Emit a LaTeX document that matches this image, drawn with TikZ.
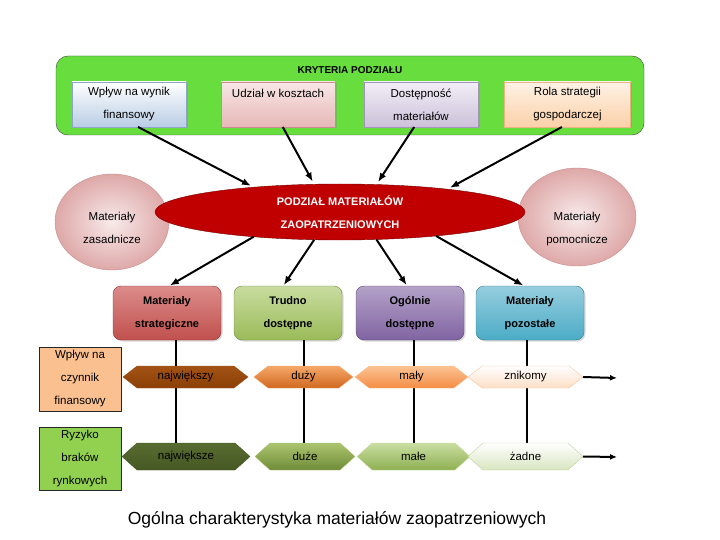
\documentclass[tikz,border=0pt]{standalone}
\usepackage{fontspec}
\setmainfont{Liberation Sans}
\usetikzlibrary{shapes.geometric,shapes.symbols,shadows,arrows.meta}
\definecolor{frame}{RGB}{104,222,62}
\definecolor{ellred}{RGB}{192,0,0}
\definecolor{discin}{RGB}{248,234,234}
\definecolor{discout}{RGB}{222,168,168}
\definecolor{discb}{RGB}{200,140,140}
\definecolor{peach}{RGB}{250,192,144}
\definecolor{lgreen}{RGB}{146,208,80}
% kryteria
\definecolor{kbA}{RGB}{185,205,229}\definecolor{kbAb}{RGB}{140,165,200}
\definecolor{kbBt}{RGB}{248,230,230}\definecolor{kbB}{RGB}{230,184,183}\definecolor{kbBb}{RGB}{200,140,140}
\definecolor{kbCt}{RGB}{242,238,246}\definecolor{kbC}{RGB}{204,193,218}\definecolor{kbCb}{RGB}{165,150,185}
\definecolor{kbDt}{RGB}{254,242,230}\definecolor{kbD}{RGB}{251,208,168}\definecolor{kbDb}{RGB}{235,180,130}
% grupy
\definecolor{gAt}{RGB}{220,140,138}\definecolor{gA}{RGB}{192,80,77}\definecolor{gAb}{RGB}{140,56,54}
\definecolor{gBt}{RGB}{200,220,160}\definecolor{gB}{RGB}{155,187,89}\definecolor{gBb}{RGB}{113,137,63}
\definecolor{gCt}{RGB}{180,162,200}\definecolor{gC}{RGB}{128,100,162}\definecolor{gCb}{RGB}{92,71,118}
\definecolor{gDt}{RGB}{150,205,222}\definecolor{gD}{RGB}{75,172,198}\definecolor{gDb}{RGB}{53,125,145}
% cechy
\definecolor{hAt}{RGB}{162,82,20}\definecolor{hA}{RGB}{140,64,6}
\definecolor{hBt}{RGB}{245,168,105}\definecolor{hB}{RGB}{208,104,32}
\definecolor{hCt}{RGB}{251,195,148}\definecolor{hC}{RGB}{244,140,68}
\definecolor{hD}{RGB}{252,222,198}\definecolor{hDb}{RGB}{248,196,160}
\definecolor{rAt}{RGB}{88,108,48}\definecolor{rA}{RGB}{70,88,36}
\definecolor{rBt}{RGB}{172,196,112}\definecolor{rB}{RGB}{112,140,56}
\definecolor{rCt}{RGB}{202,222,162}\definecolor{rC}{RGB}{142,176,82}
\definecolor{rD}{RGB}{216,229,192}\definecolor{rDb}{RGB}{190,210,155}
\begin{document}
\begin{tikzpicture}[x=1pt, y=-1pt, font=\fontsize{11.5}{23}\selectfont, line join=round, >={Latex[length=9pt,width=7pt]}]
	\tikzset{
	crit/.style n args={3}{rectangle, draw=#3, top color=#1, bottom color=#2, minimum height=45pt, inner sep=0pt, outer sep=0pt, align=center, drop shadow={shadow xshift=1.5pt, shadow yshift=-1.5pt, opacity=.3}},
	grp/.style n args={3}{rectangle, rounded corners=8pt, draw=#3, top color=#1, bottom color=#2, minimum width=108pt, minimum height=54pt, inner sep=0pt, outer sep=0pt, align=center, font=\bfseries\fontsize{11}{23}\selectfont, drop shadow={shadow xshift=1.5pt, shadow yshift=-1.5pt, opacity=.3}},
	hexa/.style n args={3}{signal, signal to=west and east, draw=#3, top color=#1, bottom color=#2, inner sep=0pt, outer sep=0pt},
	lab/.style={rectangle, draw=black!85, fill=#1, minimum width=82pt, minimum height=64pt, inner sep=0pt, align=center},
	disc/.style={ellipse, draw=discb, inner color=discin, outer color=discout, inner sep=0pt},
	arr/.style={->, line width=2pt},
	vline/.style={line width=2pt}
	}
	\useasboundingbox (0,0) rectangle (720,540);
	% kryteria
	\node[draw=black!75, fill=frame, rounded corners=12pt, minimum width=588pt, minimum height=79pt, inner sep=0pt] (krit) at (350,95.5) {};
	\node[font=\bfseries\fontsize{10}{12}\selectfont] (kritT) at (350,70) {KRYTERIA PODZIAŁU};
	\node[crit={white}{kbA}{kbAb}, minimum width=114pt] (b1) at (129,104.5) {Wpływ na wynik\\finansowy};
	\node[crit={kbBt}{kbB}{kbBb}, minimum width=114pt] (b2) at (278,104.5) {Udział w kosztach\\\mbox{}};
	\node[crit={kbCt}{kbC}{kbCb}, minimum width=114pt] (b3) at (421,104.5) {Dostępność\\materiałów};
	\node[crit={kbDt}{kbD}{kbDb}, minimum width=126pt] (b4) at (567.5,104.5) {Rola strategii\\gospodarczej};
	% podzial
	\node[disc, minimum width=114pt, minimum height=96pt] (zas) at (112,222) {};
	\node[align=center] (zasT) at (112,228) {Materiały\\zasadnicze};
	\node[disc, minimum width=118pt, minimum height=98pt] (pom) at (577,217) {};
	\node[align=center] (pomT) at (577,229) {Materiały\\pomocnicze};
	\node[ellipse, draw=red!45!black, fill=ellred, minimum width=370pt, minimum height=56pt, inner sep=0pt, outer sep=0pt, text=white, align=center, font=\bfseries\fontsize{11}{23}\selectfont] (ell) at (340,212) {PODZIAŁ MATERIAŁÓW\\ZAOPATRZENIOWYCH};
	\draw[arr, shorten >=3pt] (b1.-68) -- (ell.164);
	\draw[arr, shorten >=3pt] (b2.-78) -- (ell.133);
	\draw[arr, shorten >=3pt] (b3.-107) -- (ell.37);
	\draw[arr, shorten >=3pt] (b4.-104) -- (ell.12);
	% grupy
	\node[grp={gAt}{gA}{gAb}] (A) at (167,313) {Materiały\\strategiczne};
	\node[grp={gBt}{gB}{gBb}] (B) at (288,313) {Trudno\\dostępne};
	\node[grp={gCt}{gC}{gCb}] (C) at (410,313) {Ogólnie\\dostępne};
	\node[grp={gDt}{gD}{gDb}] (D) at (530,313) {Materiały\\pozostałe};
	\draw[arr, shorten >=1pt] (ell.-164) -- (A.86);
	\draw[arr, shorten >=1pt] (ell.-133) -- (B.100);
	\draw[arr, shorten >=1pt] (ell.-37) -- (C.96);
	\draw[arr, shorten >=1pt] (ell.-14) -- (D.102);
	% cechy
	\node[lab=peach] (L1) at (80,379) {Wpływ na\\czynnik\\finansowy};
	\node[lab=lgreen, minimum height=63pt] (L2) at (80,458.5) {Ryzyko\\braków\\rynkowych};
	\foreach \b/\x in {A/176, B/304, C/414, D/527}{
	\draw[vline] (\b.south -| \x,0) -- (\x,443);
	}
	\node[hexa={hAt}{hA}{hAt}, signal pointer angle=76, minimum width=125pt, minimum height=22pt] (h1) at (185.5,377) {największy};
	\node[hexa={hBt}{hB}{hBt}, signal pointer angle=76, minimum width=99pt, minimum height=22pt] (h2) at (303.5,377) {duży};
	\node[hexa={hCt}{hC}{hCt}, signal pointer angle=76, minimum width=113pt, minimum height=22pt] (h3) at (411.5,377) {mały};
	\node[hexa={white}{hD}{hDb}, signal pointer angle=76, minimum width=115pt, minimum height=22pt] (h4) at (525.5,377) {znikomy};
	\node[hexa={rAt}{rA}{rA}, signal pointer angle=84, minimum width=128pt, minimum height=27pt] (g1) at (186,456.5) {największe};
	\node[hexa={rBt}{rB}{rBt}, signal pointer angle=84, minimum width=100pt, minimum height=27pt] (g2) at (305,456.5) {duże};
	\node[hexa={rCt}{rC}{rCt}, signal pointer angle=84, minimum width=113pt, minimum height=27pt] (g3) at (413.5,456.5) {małe};
	\node[hexa={white}{rD}{rDb}, signal pointer angle=84, minimum width=115pt, minimum height=27pt] (g4) at (525.5,456.5) {żadne};
	\coordinate (e1) at (617,378);
	\coordinate (e2) at (617,457);
	\draw[arr, >={Latex[length=7pt,width=6pt]}] (h4.east) -- (e1);
	\draw[arr, >={Latex[length=7pt,width=6pt]}] (g4.east) -- (e2);
	\node (cap) at (337,520) {\fontsize{17.5}{20}\selectfont Ogólna charakterystyka materiałów zaopatrzeniowych};
\end{tikzpicture}
\end{document}
